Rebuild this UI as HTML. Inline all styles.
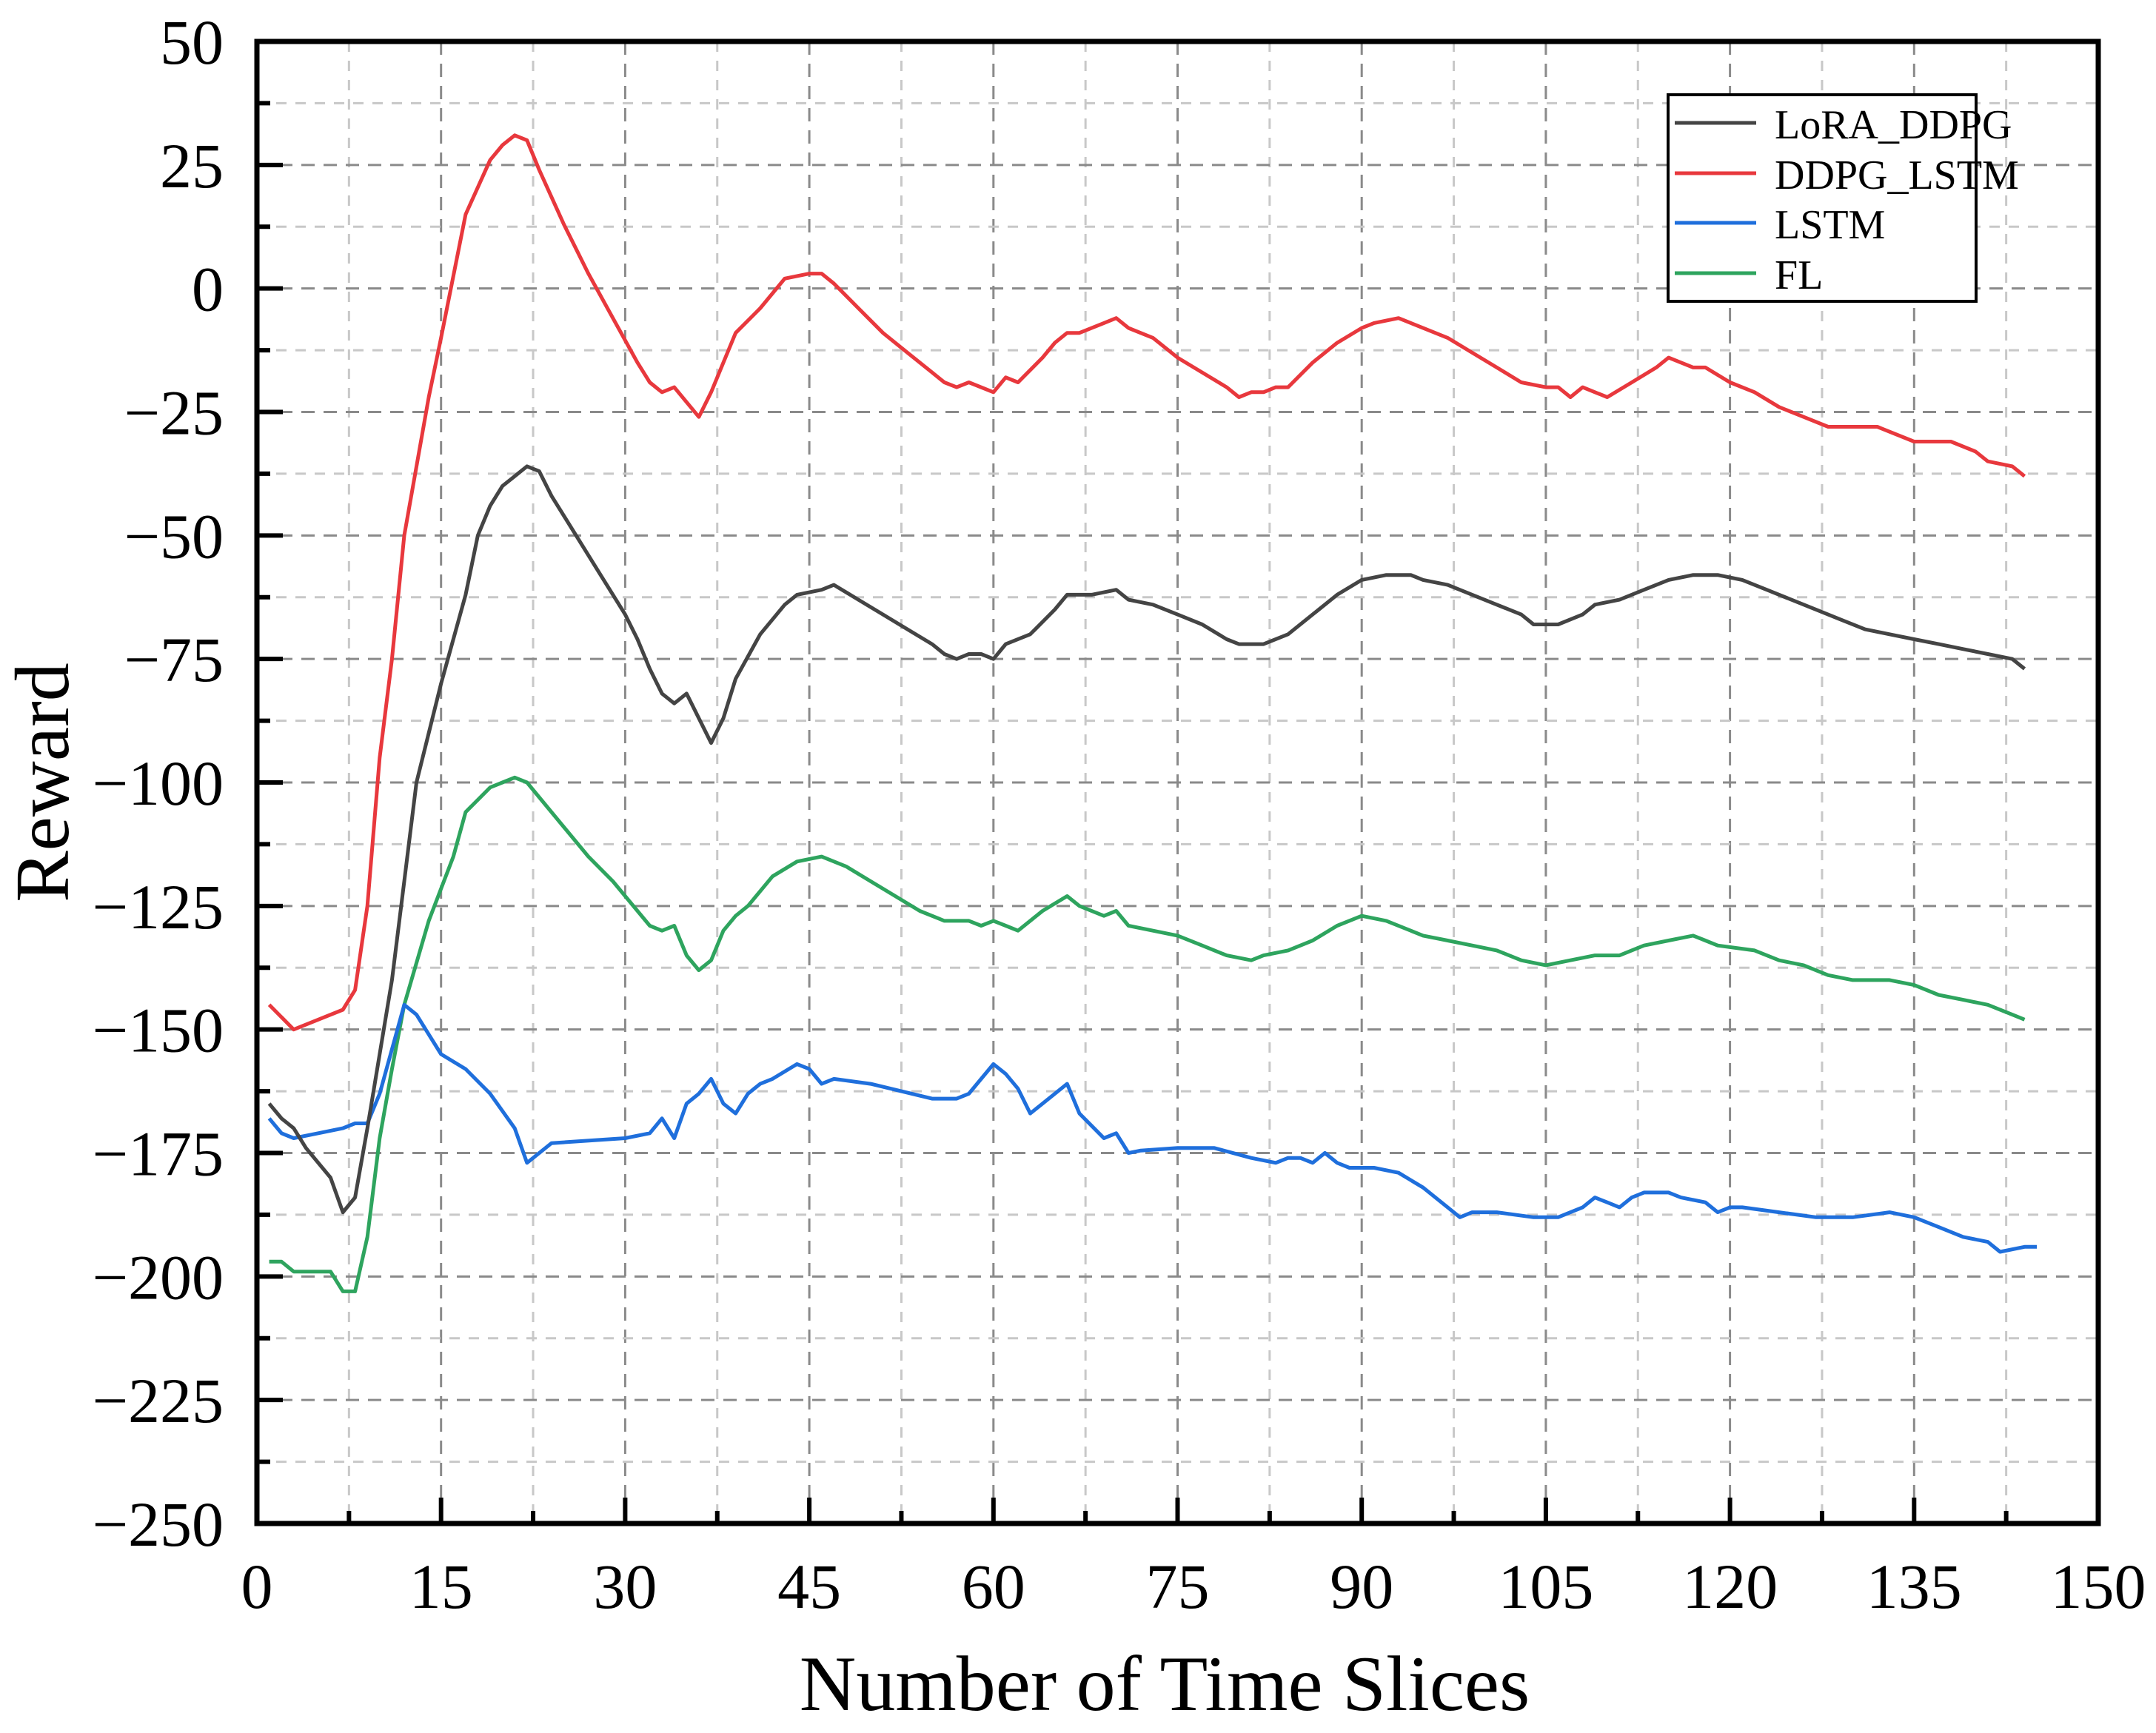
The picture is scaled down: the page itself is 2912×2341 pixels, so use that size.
<!DOCTYPE html>
<html><head><meta charset="utf-8"><style>
html,body{margin:0;padding:0;background:#fff;}
svg{display:block;font-family:"Liberation Serif",serif;}
</style></head><body>
<svg id="chart" width="2912" height="2341" viewBox="0 0 2912 2341" xmlns="http://www.w3.org/2000/svg">
<rect width="2912" height="2341" fill="#fff"/>
<g id="grid"></g>
<g id="series"></g>
<g id="axes"></g>
<text x="1573" y="2310" font-size="106" text-anchor="middle">Number of Time Slices</text>
<text transform="translate(92,1057) rotate(-90)" font-size="104" text-anchor="middle">Reward</text>
<g>
<rect x="2253" y="128" width="416" height="279" fill="#fff" stroke="#000" stroke-width="4"/>
<line x1="2262" y1="166" x2="2372" y2="166" stroke="#444" stroke-width="5"/>
<text x="2397" y="187" font-size="56">LoRA_DDPG</text>
<line x1="2262" y1="234" x2="2372" y2="234" stroke="#e8383d" stroke-width="5"/>
<text x="2397" y="255" font-size="56">DDPG_LSTM</text>
<line x1="2262" y1="301" x2="2372" y2="301" stroke="#1f6fdc" stroke-width="5"/>
<text x="2397" y="322" font-size="56">LSTM</text>
<line x1="2262" y1="369" x2="2372" y2="369" stroke="#2ea45e" stroke-width="5"/>
<text x="2397" y="390" font-size="56">FL</text>
</g>
</svg>
<script>
const xTicks=[0,15,30,45,60,75,90,105,120,135,150];
const yTicks=[50,25,0,-25,-50,-75,-100,-125,-150,-175,-200,-225,-250];
const loraX=[1,2,3,4,6,7,8,9,10,11,12,13,15,17,18,19,20,21,22,23,24,26,28,30,31,32,33,34,35,36,37,38,39,41,43,44,46,47,49,51,53,55,56,57,58,59,60,61,63,65,66,68,70,71,73,75,77,79,80,81,82,84,86,88,90,92,94,95,97,99,101,103,104,106,108,109,111,113,115,117,119,121,123,125,127,129,131,133,135,137,139,141,143,144];
const loraY=[-165,-168,-170,-174,-180,-187,-184,-170,-155,-140,-120,-100,-80,-62,-50,-44,-40,-38,-36,-37,-42,-50,-58,-66,-71,-77,-82,-84,-82,-87,-92,-87,-79,-70,-64,-62,-61,-60,-63,-66,-69,-72,-74,-75,-74,-74,-75,-72,-70,-65,-62,-62,-61,-63,-64,-66,-68,-71,-72,-72,-72,-70,-66,-62,-59,-58,-58,-59,-60,-62,-64,-66,-68,-68,-66,-64,-63,-61,-59,-58,-58,-59,-61,-63,-65,-67,-69,-70,-71,-72,-73,-74,-75,-77];
const ddpgX=[1,3,5,7,8,9,10,11,12,14,15,17,19,20,21,22,23,25,27,29,31,32,33,34,35,36,37,38,39,41,43,45,46,47,49,51,53,55,56,57,58,60,61,62,64,65,66,67,69,70,71,73,75,77,79,80,81,82,83,84,86,88,90,91,93,95,97,99,101,103,105,106,107,108,110,112,114,115,117,118,120,122,124,126,128,130,132,135,138,140,141,143,144];
const ddpgY=[-145,-150,-148,-146,-142,-125,-95,-75,-50,-22,-10,15,26,29,31,30,24,13,3,-6,-15,-19,-21,-20,-23,-26,-21,-15,-9,-4,2,3,3,1,-4,-9,-13,-17,-19,-20,-19,-21,-18,-19,-14,-11,-9,-9,-7,-6,-8,-10,-14,-17,-20,-22,-21,-21,-20,-20,-15,-11,-8,-7,-6,-8,-10,-13,-16,-19,-20,-20,-22,-20,-22,-19,-16,-14,-16,-16,-19,-21,-24,-26,-28,-28,-28,-31,-31,-33,-35,-36,-38];
const lstmX=[1,2,3,5,7,8,9,10,11,12,13,14,15,17,19,21,22,24,30,32,33,34,35,36,37,38,39,40,41,42,44,45,46,47,50,55,57,58,59,60,61,62,63,64,66,67,69,70,71,72,75,78,81,83,84,85,86,87,88,89,91,93,95,97,98,99,101,104,106,107,108,109,110,111,112,113,115,116,118,119,120,121,124,127,130,133,135,137,139,141,142,144,145];
const lstmY=[-168,-171,-172,-171,-170,-169,-169,-163,-154,-145,-147,-151,-155,-158,-163,-170,-177,-173,-172,-171,-168,-172,-165,-163,-160,-165,-167,-163,-161,-160,-157,-158,-161,-160,-161,-164,-164,-163,-160,-157,-159,-162,-167,-165,-161,-167,-172,-171,-175,-174.5,-174,-174,-176,-177,-176,-176,-177,-175,-177,-178,-178,-179,-182,-186,-188,-187,-187,-188,-188,-187,-186,-184,-185,-186,-184,-183,-183,-184,-185,-187,-186,-186,-187,-188,-188,-187,-188,-190,-192,-193,-195,-194,-194];
const flX=[1,2,3,5,6,7,8,9,10,11,12,14,16,17,19,20,21,22,23,25,27,29,31,32,33,34,35,36,37,38,39,40,42,44,46,48,50,52,54,56,58,59,60,61,62,64,66,67,69,70,71,73,75,77,79,81,82,84,86,88,90,92,94,95,97,99,101,103,105,107,109,111,113,115,117,118,119,122,124,126,128,130,133,135,137,139,141,143,144];
const flY=[-197,-197,-199,-199,-199,-203,-203,-192,-172,-158,-145,-128,-115,-106,-101,-100,-99,-100,-103,-109,-115,-120,-126,-129,-130,-129,-135,-138,-136,-130,-127,-125,-119,-116,-115,-117,-120,-123,-126,-128,-128,-129,-128,-129,-130,-126,-123,-125,-127,-126,-129,-130,-131,-133,-135,-136,-135,-134,-132,-129,-127,-128,-130,-131,-132,-133,-134,-136,-137,-136,-135,-135,-133,-132,-131,-132,-133,-134,-136,-137,-139,-140,-140,-141,-143,-144,-145,-147,-148];

const L=347,R=2834,T=56,B=2058;
const X0=0,X1=150,Y0=-250,Y1=50;
function sx(v){return L+(v-X0)/(X1-X0)*(R-L);}
function sy(v){return B-(v-Y0)/(Y1-Y0)*(B-T);}
const NS="http://www.w3.org/2000/svg";
function mk(tag,attrs,parent){const e=document.createElementNS(NS,tag);for(const k in attrs)e.setAttribute(k,attrs[k]);parent.appendChild(e);return e;}
const grid=document.getElementById('grid'),axes=document.getElementById('axes'),ser=document.getElementById('series');
for(let i=0;i<xTicks.length-1;i++){
  const a=xTicks[i],b=xTicks[i+1],m=(a+b)/2;
  if(i>0){const g=mk('line',{x1:sx(a),y1:T,x2:sx(a),y2:B,stroke:'#8a8a8a','stroke-width':3,'stroke-dasharray':'18,12'},grid);
  
  }
  const g2=mk('line',{x1:sx(m),y1:T,x2:sx(m),y2:B,stroke:'#c8c8c8','stroke-width':3,'stroke-dasharray':'14,12'},grid);
  
  
}
for(let i=0;i<yTicks.length-1;i++){
  const a=yTicks[i],b=yTicks[i+1],m=(a+b)/2;
  if(i>0){const g=mk('line',{x1:L,y1:sy(a),x2:R,y2:sy(a),stroke:'#8a8a8a','stroke-width':3,'stroke-dasharray':'18,12'},grid);
  
  }
  const g2=mk('line',{x1:L,y1:sy(m),x2:R,y2:sy(m),stroke:'#c8c8c8','stroke-width':3,'stroke-dasharray':'14,12'},grid);
  
  
}
function line(xs,ys,color,name){
  const d=xs.map((x,i)=>(i?'L':'M')+sx(x).toFixed(1)+','+sy(ys[i]).toFixed(1)).join('');
  const p=mk('path',{d:d,fill:'none',stroke:color,'stroke-width':5,'stroke-linejoin':'round'},ser);
  
  
}
line(flX,flY,'#2ea45e','series-fl');
line(lstmX,lstmY,'#1f6fdc','series-lstm');
line(loraX,loraY,'#444444','series-lora-ddpg');
line(ddpgX,ddpgY,'#e8383d','series-ddpg-lstm');
xTicks.forEach((v,i)=>{
  if(i>0&&i<xTicks.length-1){const t=mk('line',{x1:sx(v),y1:B,x2:sx(v),y2:B-35,stroke:'#000','stroke-width':6},axes);
  
  }
  if(i<xTicks.length-1){const m=(v+xTicks[i+1])/2;const t2=mk('line',{x1:sx(m),y1:B,x2:sx(m),y2:B-17,stroke:'#000','stroke-width':6},axes);
  
  }
  const lb=mk('text',{x:sx(v),y:2172,'font-size':86,'text-anchor':'middle'},axes);lb.textContent=v;
  
  
});
yTicks.forEach((v,i)=>{
  if(i>0&&i<yTicks.length-1){const t=mk('line',{x1:L,y1:sy(v),x2:L+35,y2:sy(v),stroke:'#000','stroke-width':6},axes);
  
  }
  if(i<yTicks.length-1){const m=(v+yTicks[i+1])/2;const t2=mk('line',{x1:L,y1:sy(m),x2:L+18,y2:sy(m),stroke:'#000','stroke-width':6},axes);
  
  }
  const lb=mk('text',{x:302,y:sy(v)+30,'font-size':86,'text-anchor':'end'},axes);lb.textContent=(v<0?'\u2212'+(-v):v);
  
  
});
const fr=mk('rect',{x:L,y:T,width:R-L,height:B-T,fill:'none',stroke:'#000','stroke-width':7},axes);


</script>
</body></html>
